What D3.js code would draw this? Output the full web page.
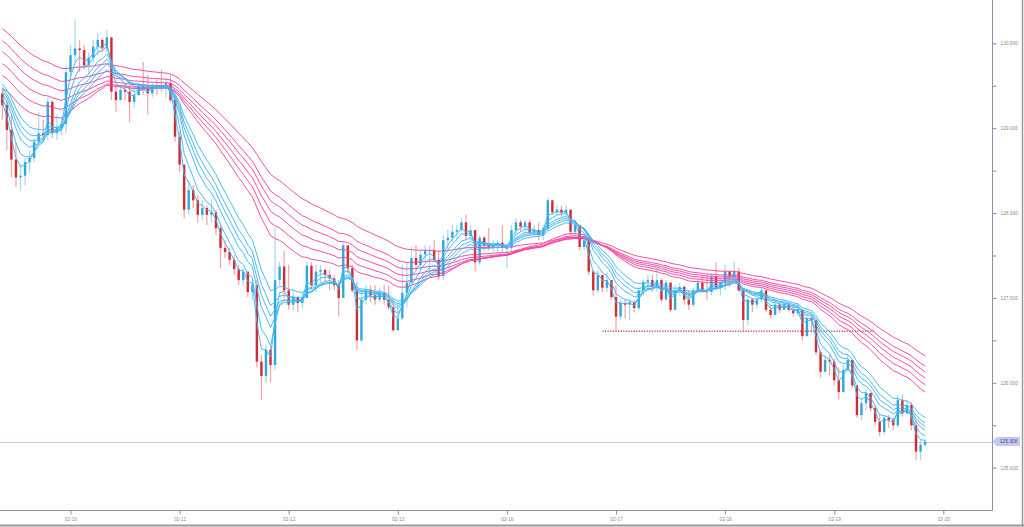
<!DOCTYPE html>
<html><head><meta charset="utf-8">
<script src="https://cdn.jsdelivr.net/npm/d3@7"></script>
<style>html,body{margin:0;padding:0;background:#fff;overflow:hidden}svg{display:block}</style>
</head><body><svg id="c" width="1024" height="527"></svg>
<script>
// hourly candles, index relative to 02-10 00:00
const firstIndex = -15;
const firstOpen = 129.41;
const closes = [129.27,128.98,128.63,128.42,128.44,128.60,128.65,128.84,128.94,128.92,129.31,128.94,129.00,129.05,129.66,
129.86,129.94,129.92,129.74,129.83,129.96,130.04,129.94,130.07,129.43,129.33,129.45,129.43,129.31,129.39,129.49,129.47,129.41,129.50,129.49,129.47,129.53,129.33,128.90,
128.57,128.04,128.27,128.15,127.98,128.06,127.98,128.01,127.82,127.59,127.54,127.45,127.34,127.21,127.31,127.07,127.15,126.25,126.08,126.39,126.21,127.21,127.37,127.09,
126.92,127.01,126.94,127.00,127.38,127.15,127.31,127.33,127.27,127.23,127.15,127.00,127.62,127.35,127.09,126.50,126.98,127.09,127.03,126.98,127.06,126.98,126.89,126.62,
126.76,127.06,127.18,127.47,127.39,127.51,127.56,127.56,127.45,127.26,127.68,127.71,127.78,127.80,127.89,127.73,127.80,127.42,127.71,127.62,127.60,127.62,127.65,127.59,
127.59,127.80,127.89,127.84,127.89,127.77,127.80,127.74,127.82,128.15,128.01,128.04,128.00,128.04,127.78,127.86,127.60,127.68,127.31,127.09,127.27,127.12,127.21,127.01,
126.78,126.94,126.92,126.95,126.88,127.09,127.19,127.21,127.13,127.21,126.98,127.18,126.86,127.09,127.13,126.98,126.92,127.09,127.18,127.09,127.07,127.25,127.12,127.18,
127.31,127.25,127.31,127.09,126.74,126.98,126.92,126.98,127.09,126.86,126.80,126.92,126.86,126.92,126.86,126.82,126.86,126.55,126.76,126.74,126.36,126.13,126.27,126.25,
126.03,125.89,126.15,126.27,125.97,125.62,125.76,125.88,125.70,125.54,125.42,125.59,125.56,125.50,125.80,125.64,125.74,125.50,125.19,125.27,125.308];
const highs = [129.47,129.33,129.16,128.83,128.57,128.65,128.74,128.88,129.19,129.10,129.36,129.33,129.16,129.12,129.74,
129.98,130.27,130.04,129.98,129.90,130.04,130.12,130.06,130.16,130.06,129.51,129.51,129.52,129.51,129.47,129.53,129.78,129.63,129.54,129.57,129.69,129.59,129.63,129.39,
128.96,128.57,128.39,128.33,128.21,128.15,128.09,128.15,128.04,127.86,127.68,127.59,127.51,127.39,127.35,127.31,127.21,127.21,126.33,126.45,126.45,127.82,127.42,127.56,
127.39,127.09,127.03,127.07,127.42,127.42,127.39,127.39,127.35,127.33,127.27,127.21,127.66,127.59,127.39,127.19,127.09,127.15,127.15,127.15,127.12,127.15,127.15,127.00,
126.92,127.39,127.42,127.60,127.62,127.56,127.62,127.61,127.68,127.56,127.74,127.80,127.86,127.86,127.94,127.98,127.86,127.62,127.74,127.73,127.82,127.68,127.68,127.86,
127.62,127.86,127.94,127.92,127.92,127.92,127.86,127.89,127.86,128.18,128.15,128.09,128.09,128.09,128.04,127.92,127.86,127.74,127.68,127.33,127.33,127.27,127.31,127.21,
127.15,126.98,126.98,126.98,126.98,127.13,127.21,127.27,127.27,127.35,127.23,127.21,127.15,127.15,127.18,127.15,127.09,127.12,127.23,127.27,127.27,127.29,127.42,127.23,
127.39,127.33,127.42,127.35,127.12,127.03,127.00,127.01,127.13,127.09,126.92,126.98,126.94,126.95,126.95,126.92,126.92,126.86,126.80,126.80,126.74,126.39,126.33,126.33,
126.29,126.18,126.21,126.33,126.27,125.97,125.82,125.92,125.88,125.74,125.62,125.62,125.62,125.59,125.86,125.86,125.80,125.77,125.56,125.33,125.34];
const lows = [129.10,128.74,128.42,128.31,128.27,128.33,128.48,128.60,128.80,128.84,128.86,128.88,128.86,128.92,128.94,
129.57,129.78,129.66,129.69,129.63,129.78,129.86,129.90,129.90,129.33,129.19,129.33,129.33,129.07,129.24,129.38,129.39,129.16,129.36,129.39,129.43,129.36,129.31,128.84,
128.48,127.94,127.98,128.06,127.89,127.92,127.86,127.89,127.74,127.35,127.47,127.39,127.27,127.15,127.15,127.01,126.98,126.18,125.80,126.00,126.01,126.15,127.15,127.00,
126.86,126.86,126.83,126.88,127.09,127.09,127.07,127.18,127.19,127.09,127.09,126.78,127.09,127.29,127.06,126.39,126.48,126.92,126.95,126.92,126.95,126.92,126.86,126.60,
126.68,126.74,126.89,127.35,127.33,127.33,127.42,127.27,127.42,127.21,127.21,127.56,127.66,127.68,127.78,127.68,127.68,127.31,127.39,127.56,127.56,127.54,127.54,127.54,
127.35,127.54,127.74,127.78,127.78,127.73,127.71,127.68,127.68,127.80,127.98,127.98,127.94,127.97,127.74,127.74,127.56,127.56,127.27,127.03,127.06,127.07,127.07,126.98,
126.62,126.74,126.76,126.74,126.83,126.86,127.03,127.09,127.07,127.07,126.95,126.98,126.83,126.86,127.03,126.92,126.86,126.89,127.07,127.06,126.98,127.03,127.09,127.03,
127.09,127.13,127.21,127.07,126.62,126.68,126.83,126.88,126.95,126.83,126.76,126.80,126.82,126.86,126.83,126.78,126.79,126.50,126.56,126.59,126.33,126.06,126.13,126.09,
125.97,125.80,125.94,126.13,125.94,125.59,125.56,125.68,125.66,125.50,125.37,125.39,125.47,125.44,125.47,125.60,125.62,125.44,125.09,125.09,125.24];

// GMMA: short (blue) and long (pink) EMAs, with their values at the first candle
const shortPeriods = [3, 5, 8, 10, 12, 15];
const shortStart = [129.30, 129.36, 129.41, 129.45, 129.48, 129.52];
const longPeriods = [30, 35, 40, 45, 50, 60];
const longStart = [129.47, 129.62, 129.76, 129.90, 130.03, 130.17];

const dayTickIndex = [0, 24, 48, 72, 96, 120, 144, 168, 192];
const dayTickLabels = ["02-10","02-11","02-12","02-13","02-16","02-17","02-18","02-19","02-20"];
const priceTicks = [125, 126, 127, 128, 129, 130];
const priceMinorTicks = [125.5, 126.5, 127.5, 128.5, 129.5];
const lastPrice = 125.308;
const supportLevel = [{from: 117, to: 177, price: 126.61}];

const svg = d3.select("#c");
const plotRight = 992.5, plotBottom = 510.5;
const x = d3.scaleLinear().domain([0, 24]).range([70.5, 179.6]);
const y = d3.scaleLinear().domain([125, 130]).range([467.7, 43.3]);

const candles = closes.map((c, k) => ({
  i: firstIndex + k,
  o: k === 0 ? firstOpen : closes[k - 1],
  c: c, h: highs[k], l: lows[k]
}));

function ema(period, start) {
  const a = 2 / (period + 1);
  const out = [];
  let v = start;
  candles.forEach((d, k) => {
    if (k > 0) v = v + a * (d.c - v);
    out.push({i: d.i, v: v});
  });
  return out;
}

svg.append("defs").append("clipPath").attr("id", "pc")
  .append("rect").attr("x", 0).attr("y", 0).attr("width", plotRight).attr("height", plotBottom);
const plot = svg.append("g").attr("clip-path", "url(#pc)");

// last price line
plot.append("line").attr("x1", 0).attr("x2", plotRight)
  .attr("y1", Math.round(y(lastPrice)) + 0.5).attr("y2", Math.round(y(lastPrice)) + 0.5)
  .attr("stroke", "#c6cbf2").attr("stroke-width", 1);

// candles
const up = d => d.c >= d.o;
plot.append("g").selectAll("line").data(candles).join("line")
  .attr("x1", d => x(d.i)).attr("x2", d => x(d.i))
  .attr("y1", d => y(Math.max(d.h, d.o, d.c))).attr("y2", d => y(Math.min(d.l, d.o, d.c)))
  .attr("stroke", d => up(d) ? "#9fd8f3" : "#f1a3a6").attr("stroke-width", 1.2);
plot.append("g").selectAll("rect").data(candles).join("rect")
  .attr("x", d => x(d.i) - 1.2).attr("width", 2.4)
  .attr("y", d => y(Math.max(d.o, d.c)))
  .attr("height", d => Math.max(1, Math.abs(y(d.o) - y(d.c))))
  .attr("fill", d => up(d) ? "#2ea7df" : "#d6282e");

// support dotted line
plot.selectAll(".sup").data(supportLevel).join("line")
  .attr("x1", d => x(d.from)).attr("x2", d => x(d.to))
  .attr("y1", d => y(d.price)).attr("y2", d => y(d.price))
  .attr("stroke", "#b8363a").attr("stroke-width", 1.3).attr("stroke-dasharray", "1.3,1.3");

const line = d3.line().x(d => x(d.i)).y(d => y(d.v));
longPeriods.forEach((p, k) => {
  plot.append("path").datum(ema(p, longStart[k])).attr("d", line)
    .attr("fill", "none").attr("stroke", "#f2449f").attr("stroke-width", 1).attr("stroke-opacity", 0.95);
});
shortPeriods.forEach((p, k) => {
  plot.append("path").datum(ema(p, shortStart[k])).attr("d", line)
    .attr("fill", "none").attr("stroke", "#3fb6f2").attr("stroke-width", 1).attr("stroke-opacity", 0.95);
});

// axes
const axisColor = "#8a8ea6";
svg.append("g").attr("transform", `translate(${plotRight},0)`)
  .call(d3.axisRight(y).tickValues(priceTicks).tickSize(4).tickPadding(4).tickFormat(d3.format(".3f")));
svg.append("g").attr("transform", `translate(${plotRight},0)`)
  .call(d3.axisRight(y).tickValues(priceMinorTicks).tickSize(4).tickFormat(""));
svg.append("g").attr("transform", `translate(0,${plotBottom})`)
  .call(d3.axisBottom(x).tickValues(dayTickIndex).tickSize(4).tickPadding(3)
    .tickFormat((d, k) => dayTickLabels[k]));
svg.selectAll(".domain").remove();
svg.append("line").attr("x1", plotRight).attr("x2", plotRight).attr("y1", 0).attr("y2", plotBottom)
  .attr("stroke", axisColor).attr("stroke-width", 1);
svg.append("line").attr("x1", 0).attr("x2", plotRight).attr("y1", plotBottom).attr("y2", plotBottom)
  .attr("stroke", axisColor).attr("stroke-width", 1);
svg.selectAll(".tick line").attr("stroke", axisColor);
svg.selectAll(".tick text").attr("fill", "#8a8a8a").style("font-family", "Liberation Sans, Arial, sans-serif").style("font-size", "4.8px");

// last price badge
const ly = y(lastPrice);
svg.append("path")
  .attr("d", `M${plotRight},${ly} L${plotRight + 4},${ly - 4.5} L1020,${ly - 4.5} L1020,${ly + 4.5} L${plotRight + 4},${ly + 4.5} Z`)
  .attr("fill", "#c3c8f2");
svg.append("text").attr("x", 1008.5).attr("y", ly + 1.8).attr("text-anchor", "middle")
  .attr("fill", "#4a4f6a").style("font-family", "Liberation Sans, Arial, sans-serif").style("font-size", "4.8px")
  .text(d3.format(".3f")(lastPrice));

// frame of the picture
svg.append("line").attr("x1", 0).attr("x2", 1024).attr("y1", 525.5).attr("y2", 525.5).attr("stroke", "#9a9a9a").attr("stroke-width", 2);
svg.append("line").attr("x1", 1022.5).attr("x2", 1022.5).attr("y1", 0).attr("y2", 527).attr("stroke", "#9a9a9a").attr("stroke-width", 1.5);
</script></body></html>
